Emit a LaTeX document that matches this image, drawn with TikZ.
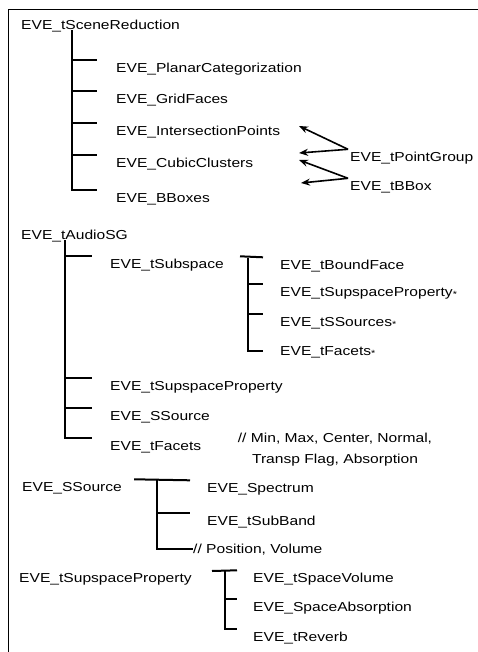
\documentclass[tikz,border=0pt]{standalone}
\usepackage{fontspec}
\setmainfont[FakeStretch=1.2]{Liberation Sans}
\usetikzlibrary{arrows.meta}

\tikzset{
	lbl/.style={anchor=west,inner sep=2pt,text height=10pt,text depth=1pt,font=\fontsize{13}{15}\selectfont},
	note/.style={align=center,inner sep=0pt,font=\fontsize{13}{21}\selectfont},
	tree/.style={line width=2pt},
	ptr/.style={line width=1.6pt,-{Stealth[length=9pt,width=7pt]}},
}
\newcommand{\sm}{\raisebox{-0.5pt}{\small*}}

\begin{document}
\begin{tikzpicture}[x=1pt,y=-1pt]
	\useasboundingbox (0,0) rectangle (478,652);
	\draw[line width=0.8pt] (8,652) |- (478,9);

	% scene reduction
	\node[lbl] at (19,25) (scene) {EVE\_tSceneReduction};
	\node[lbl] at (114,68) (planar) {EVE\_PlanarCategorization};
	\node[lbl] at (114,99) (grid) {EVE\_GridFaces};
	\node[lbl] at (114,131) (isect) {EVE\_IntersectionPoints};
	\node[lbl] at (114,163) (cubic) {EVE\_CubicClusters};
	\node[lbl] at (114,198) (bboxes) {EVE\_BBoxes};
	\node[lbl] at (348,157) (pgroup) {EVE\_tPointGroup};
	\node[lbl] at (348,186) (bbox) {EVE\_tBBox};
	\coordinate (s1) at (72,30);
	\draw[tree] (s1) |- ([xshift=-17pt]bboxes.north west);
	\foreach \c in {planar,grid,isect,cubic}
		\draw[tree] (s1 |- \c.north) -- ([xshift=-17pt]\c.north west);
	\coordinate (a1) at (299,126);
	\coordinate (a2) at (299,153);
	\coordinate (a3) at (299,160);
	\coordinate (a4) at (301,183);
	\draw[ptr] (pgroup.north west) -- (a1);
	\draw[ptr] (pgroup.north west) -- (a2);
	\draw[ptr] (bbox.north west) -- (a3);
	\draw[ptr] (bbox.north west) -- (a4);

	% audio scene graph
	\node[lbl] at (19,235) (audio) {EVE\_tAudioSG};
	\node[lbl] at (108,264) (subsp) {EVE\_tSubspace};
	\node[lbl] at (108,386) (supprop) {EVE\_tSupspaceProperty};
	\node[lbl] at (108,416) (ssrc) {EVE\_SSource};
	\node[lbl] at (108,446) (facets) {EVE\_tFacets};
	\node[note] at (335,450) (facnote) {// Min, Max, Center, Normal,\\Transp Flag, Absorption};
	\coordinate (s2) at (65,240);
	\draw[tree] (s2) |- ([xshift=-16pt]facets.north west);
	\foreach \c in {subsp,supprop,ssrc}
		\draw[tree] (s2 |- \c.north) -- ([xshift=-16pt]\c.north west);

	\node[lbl] at (278,265) (bface) {EVE\_tBoundFace};
	\node[lbl] at (278,292) (sprop2) {EVE\_tSupspaceProperty\sm};
	\node[lbl] at (278,322) (ssrcs) {EVE\_tSSources\sm};
	\node[lbl] at (278,351) (facets2) {EVE\_tFacets\sm};
	\coordinate (s3) at (248,258);
	\draw[tree] ([xshift=14pt]subsp.north east) -- ([xshift=-15pt]bface.north west);
	\draw[tree] (s3) |- ([xshift=-15pt]facets2.west);
	\foreach \c in {sprop2,ssrcs}
		\draw[tree] (s3 |- \c.north) -- ([xshift=-15pt]\c.north west);

	% sound source
	\node[lbl] at (20,487) (source) {EVE\_SSource};
	\node[lbl] at (205,488) (spect) {EVE\_Spectrum};
	\node[lbl] at (205,521) (subband) {EVE\_tSubBand};
	\node[lbl,inner sep=0pt] at (193,549) (posvol) {// Position, Volume};
	\coordinate (s4) at (157,480);
	\draw[tree] ([xshift=10pt]source.north east) -- ([xshift=-15pt]spect.north west);
	\draw[tree] (s4) |- (posvol.west);
	\draw[tree] (s4 |- subband.north) -- ([xshift=-15pt]subband.north west);

	% subspace property
	\node[lbl] at (17,578) (spprop) {EVE\_tSupspaceProperty};
	\node[lbl] at (251,578) (svol) {EVE\_tSpaceVolume};
	\node[lbl] at (251,607) (sabs) {EVE\_SpaceAbsorption};
	\node[lbl] at (251,637) (reverb) {EVE\_tReverb};
	\coordinate (s5) at (225,571);
	\draw[tree] ([xshift=-13pt]s5) -- ([xshift=-14pt]svol.north west);
	\draw[tree] (s5) |- ([xshift=-14pt]reverb.north west);
	\draw[tree] (s5 |- sabs.north) -- ([xshift=-14pt]sabs.north west);
\end{tikzpicture}
\end{document}
